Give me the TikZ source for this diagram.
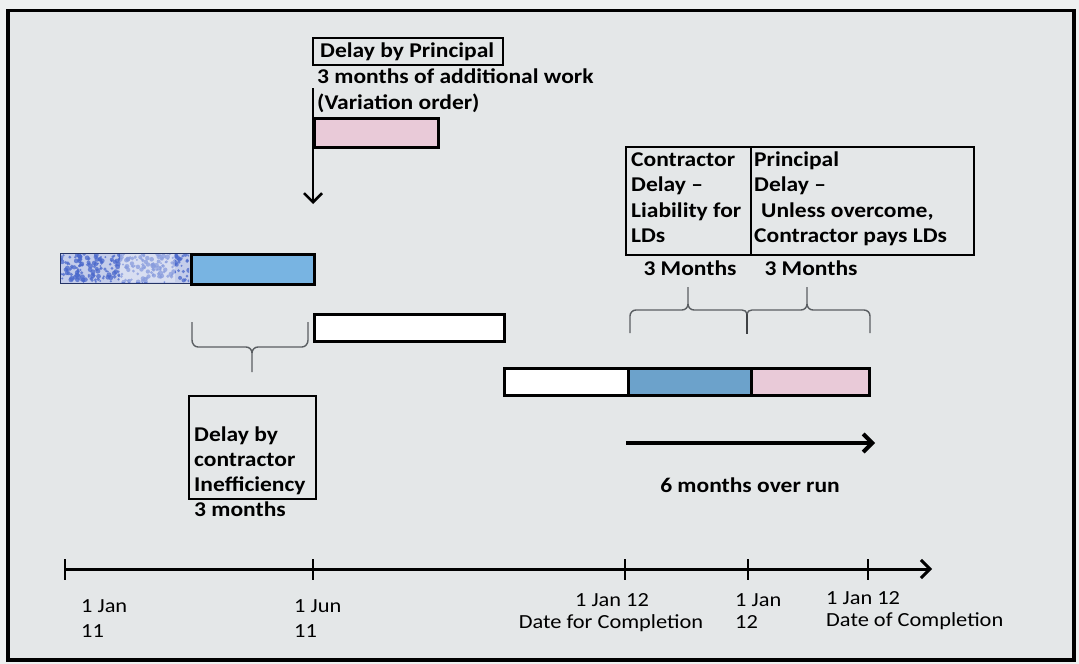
\documentclass[tikz,border=0pt]{standalone}
\usepackage{fontspec}
\setmainfont{Carlito}
\newfontfamily\lblfont{Carlito}[FakeStretch=1.12]
\usetikzlibrary{arrows.meta,patterns}
\definecolor{bg}{HTML}{E4E7E8}
\definecolor{outerbg}{HTML}{EEF0F0}
\definecolor{barblue}{HTML}{78B4E2}
\definecolor{barpink}{HTML}{E9CAD8}
\definecolor{bracegray}{HTML}{5A5E62}
\definecolor{hatchbg}{HTML}{C4CDEA}
\definecolor{hatchfg}{HTML}{4A68CC}
\begin{document}
\begin{tikzpicture}[x=1pt,y=-1pt,
  bar/.style={draw=black,line width=3pt,inner sep=0pt,anchor=north west},
  boxed/.style={draw=black,line width=2pt,inner sep=0pt,anchor=north west},
  txt/.style={inner sep=0pt,anchor=base west,font=\lblfont\bfseries\fontsize{21}{25}\selectfont},
  ctxt/.style={txt,anchor=base},
  ax/.style={inner sep=0pt,anchor=base west,font=\lblfont\fontsize{20}{24}\selectfont},
  cax/.style={ax,anchor=base},
  bracel/.style={draw=bracegray,line width=1.4pt},
  arr/.style={draw=black,line width=3pt,-{Straight Barb[length=9pt,width=18pt]}},
]
% background and frame
\fill[outerbg] (0,0) rectangle (1079,664);
\useasboundingbox (0,0) rectangle (1079,664);
\draw[draw=black,line width=3.5pt,fill=bg] (8,10.5) rectangle (1074,660);

% top: delay by principal
\node[boxed,minimum width=190pt,minimum height=27pt] (dpbox) at (312,37) {};
\node[txt] (dptxt) at (320,57) {Delay by Principal};
\node[txt] (addw) at (317,83) {3 months of additional work};
\node[txt] (vo) at (317,109) {(Variation order)};
\node[bar,line width=2.5pt,fill=barpink,minimum width=124pt,minimum height=29pt] (pinktop) at (313,117) {};
\coordinate (vtop) at (313,88);
\coordinate (vbot) at (313,204);
\draw[arr,line width=2.5pt] (vtop) -- (vbot);

% left bars
\node[draw=hatchfg!50!black,line width=0.8pt,inner sep=0pt,anchor=north west,
      minimum width=130pt,minimum height=30pt,fill=hatchbg] (hatch) at (60,253) {};
\begin{scope}
  \clip (61,254) rectangle (189,282);
  \pgfmathsetseed{7}
  \foreach \i in {1,...,260}{
    \pgfmathsetmacro{\px}{61+128*rnd}
    \pgfmathsetmacro{\py}{254+28*rnd}
    \pgfmathsetmacro{\rr}{1+1.6*rnd}
    \fill[hatchfg,opacity=0.75] (\px,\py) circle (\rr pt);
  }
  \fill[white,opacity=0.35] (120,254) rectangle (175,282);
\end{scope}
\node[bar,fill=barblue,minimum width=123pt,minimum height=30pt] (blue1) at (190,253) {};
\node[bar,fill=white,minimum width=190pt,minimum height=27pt] (white1) at (313,313) {};

% left brace (pointing down)
\draw[bracel] (192,322) -- (192,340) to[out=-90,in=180] (198,347) -- (246,347)
   to[out=0,in=90] (252,353) -- (252,372);
\draw[bracel] (252,353) to[out=90,in=180] (258,347) -- (302,347)
   to[out=0,in=-90] (308,340) -- (308,322);

% inefficiency box
\node[boxed,minimum width=127pt,minimum height=103pt] (inbox) at (188,395) {};
\node[txt] (in1) at (194,441) {Delay by};
\node[txt] (in2) at (194,466) {contractor};
\node[txt] (in3) at (194,491) {Inefficiency};
\node[txt] (in4) at (194,516) {3 months};

% contractor / principal boxes
\node[boxed,minimum width=125pt,minimum height=108pt] (cbox) at (625,146) {};
\node[boxed,minimum width=223pt,minimum height=108pt] (pbox) at (750,146) {};
\node[txt] (c1) at (631,166) {Contractor};
\node[txt] (c2) at (631,191.5) {Delay –};
\node[txt] (c3) at (631,217) {Liability for};
\node[txt] (c4) at (631,242.5) {LDs};
\node[txt] (p1) at (754,166) {Principal};
\node[txt] (p2) at (754,191.5) {Delay –};
\node[txt] (p3) at (761,217) {Unless overcome,};
\node[txt] (p4) at (754,242.5) {Contractor pays LDs};
\node[ctxt] (m1) at (690,275) {3 Months};
\node[ctxt] (m2) at (811,275) {3 Months};

% right braces (pointing up)
\draw[bracel] (630,333) -- (630,316) to[out=90,in=180] (636,310) -- (682,310)
   to[out=0,in=-90] (688,304) -- (688,287);
\draw[bracel] (688,304) to[out=-90,in=180] (694,310) -- (742,310) to[out=0,in=90] (747,314);
\draw[draw=bracegray!70!black,line width=2.5pt] (747,313) -- (747,334);
\draw[bracel] (747,314) to[out=90,in=180] (752,310) -- (801,310)
   to[out=0,in=-90] (807,304) -- (807,287);
\draw[bracel] (807,304) to[out=-90,in=180] (813,310) -- (864,310)
   to[out=0,in=90] (870,316) -- (870,333);

% bottom bars
\node[bar,fill=white,minimum width=124pt,minimum height=27pt] (white2) at (503,367) {};
\node[bar,fill=barblue!90!black,minimum width=123pt,minimum height=27pt] (blue2) at (627,367) {};
\node[bar,fill=barpink,minimum width=118pt,minimum height=27pt] (pink2) at (750,367) {};

% overrun arrow
\coordinate (oa) at (626,443);
\coordinate (ob) at (875,443);
\draw[arr,line width=4pt] (oa) -- (ob);
\node[ctxt] (over) at (750,492) {6 months over run};

% axis
\coordinate (axs) at (65,569);
\coordinate (axe) at (932,569);
\draw[arr] (axs) -- (axe);
\foreach \x/\n in {65/t0,313/t1,625/t2,748/t3,868/t4}{
  \coordinate (\n) at (\x,569);
  \draw[line width=2.5pt] (\x,559) -- (\x,580);
}
\node[ax] (l0a) at (81,612) {1 Jan};
\node[ax] (l0b) at (81,637) {11};
\node[ax] (l1a) at (294,612) {1 Jun};
\node[ax] (l1b) at (294,637) {11};
\node[cax] (l2a) at (612,606) {1 Jan 12};
\node[cax] (l2b) at (611,628) {Date for Completion};
\node[ax] (l3a) at (735,606) {1 Jan};
\node[ax] (l3b) at (735,628) {12};
\node[ax] (l4a) at (826,604) {1 Jan 12};
\node[ax] (l4b) at (826,626) {Date of Completion};
\end{tikzpicture}
\end{document}
